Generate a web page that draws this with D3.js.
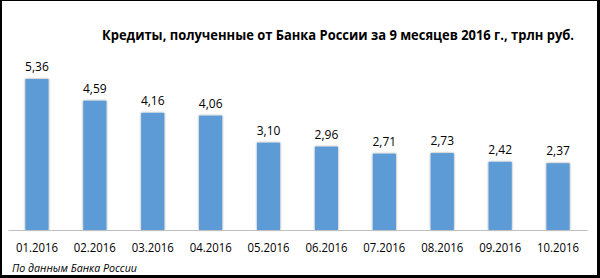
<!DOCTYPE html>
<html>
<head>
<meta charset="utf-8">
<script src="https://cdn.jsdelivr.net/npm/d3@7"></script>
<style>
	body { margin: 0; background: #000; }
	svg { display: block; }
</style>
</head>
<body>
<svg class="chart"></svg>
<script>
// chart data
var months = ["01.2016", "02.2016", "03.2016", "04.2016", "05.2016",
	"06.2016", "07.2016", "08.2016", "09.2016", "10.2016"];
var credits = [5.36, 4.59, 4.16, 4.06, 3.10, 2.96, 2.71, 2.73, 2.42, 2.37];
var title = "Кредиты, полученные от Банка России за 9 месяцев 2016 г., трлн руб.";
var source = "По данным Банка России";

var width = 600, height = 278;

var svg = d3.select("svg.chart")
	.attr("width", width)
	.attr("height", height);

// black frame, white panel
svg.append("rect")
	.attr("width", width).attr("height", height)
	.attr("fill", "#000");
svg.append("rect")
	.attr("x", 2).attr("y", 1)
	.attr("width", 595).attr("height", 274)
	.attr("fill", "#fff");

// bar shadow
var defs = svg.append("defs");
var filter = defs.append("filter")
	.attr("id", "shadow")
	.attr("x", "-30%").attr("y", "-10%")
	.attr("width", "160%").attr("height", "120%");
filter.append("feDropShadow")
	.attr("dx", 0).attr("dy", 0)
	.attr("stdDeviation", 1.2)
	.attr("flood-color", "#000")
	.attr("flood-opacity", 0.45);

// scales
var x = d3.scaleBand()
	.domain(months)
	.range([8, 587])
	.paddingInner(0.6)
	.paddingOuter(0.3);

var y = d3.scaleLinear()
	.domain([0, 6])
	.range([230, 61]);

// bars
svg.selectAll("rect.bar")
	.data(credits)
	.enter()
	.append("rect")
	.attr("class", "bar")
	.attr("x", function(d, i) { return x(months[i]); })
	.attr("y", function(d) { return y(d); })
	.attr("width", x.bandwidth())
	.attr("height", function(d) { return y(0) - y(d); })
	.attr("fill", "#5b9bd5")
	.attr("filter", "url(#shadow)");

// value labels
svg.selectAll("text.value")
	.data(credits)
	.enter()
	.append("text")
	.attr("class", "value")
	.attr("x", function(d, i) { return x(months[i]) + x.bandwidth() / 2; })
	.attr("y", function(d) { return y(d) - 8; })
	.attr("text-anchor", "middle")
	.style("font-family", "'Open Sans', sans-serif")
	.style("font-size", "12px")
	.style("fill", "#000")
	.text(function(d) { return d.toFixed(2).replace(".", ","); });

// x axis
var xAxis = svg.append("g")
	.attr("transform", "translate(0," + y(0) + ")")
	.call(d3.axisBottom(x).tickSize(0).tickPadding(13));
xAxis.select(".domain")
	.attr("stroke", "#bfbfbf")
	.attr("stroke-width", 1);
xAxis.selectAll("text")
	.attr("textLength", 42)
	.attr("lengthAdjust", "spacingAndGlyphs")
	.style("font-family", "'Open Sans', sans-serif")
	.style("font-size", "12px")
	.style("fill", "#000");

// title
svg.append("text")
	.attr("x", 574)
	.attr("y", 40)
	.attr("text-anchor", "end")
	.attr("textLength", 472)
	.attr("lengthAdjust", "spacingAndGlyphs")
	.style("font-family", "'Open Sans', sans-serif")
	.style("font-weight", "bold")
	.style("font-size", "13.5px")
	.style("fill", "#000")
	.text(title);

// source note
svg.append("text")
	.attr("x", 12)
	.attr("y", 272)
	.attr("textLength", 125)
	.attr("lengthAdjust", "spacingAndGlyphs")
	.style("font-family", "'Open Sans', sans-serif")
	.style("font-style", "italic")
	.style("font-size", "11px")
	.style("fill", "#000")
	.text(source);
</script>
</body>
</html>
